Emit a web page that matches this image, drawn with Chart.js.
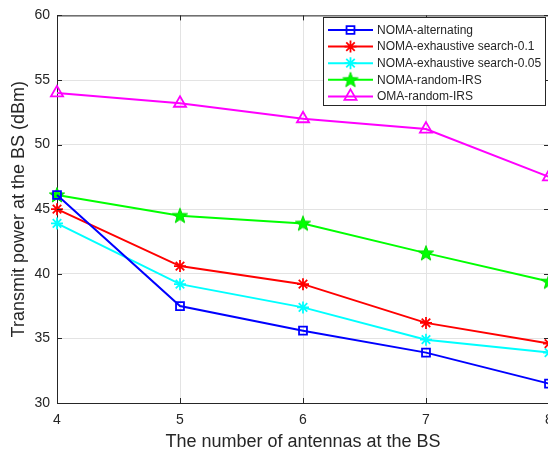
<!DOCTYPE html>
<html>
<head>
<meta charset="utf-8">
<script src="https://cdn.jsdelivr.net/npm/chart.js@4/dist/chart.umd.min.js"></script>
<style>
  html, body { margin: 0; padding: 0; background: #fff; overflow: hidden; }
  #wrap { width: 570px; height: 453px; }
</style>
</head>
<body>
<div id="wrap"><canvas id="c"></canvas></div>
<script>
const antennas = [4, 5, 6, 7, 8]
const yTicks = [30, 35, 40, 45, 50, 55, 60]
const alternating = [46.1, 37.5, 35.6, 33.9, 31.5]
const exhaustive01 = [45.0, 40.6, 39.2, 36.2, 34.6]
const exhaustive005 = [43.9, 39.2, 37.4, 34.9, 33.9]
const noma_random = [46.1, 44.5, 43.9, 41.6, 39.4]
const oma_random = [54.0, 53.2, 52.0, 51.2, 47.5]

const FONT = '"Liberation Sans", Arial, Helvetica, sans-serif'
const TXT = '#262626'

// pentagram marker
const pent = document.createElement('canvas')
pent.width = 18; pent.height = 18
{
  const g = pent.getContext('2d')
  g.beginPath()
  for (let i = 0; i < 10; i++) {
    const r = i % 2 === 0 ? 8 : 3.3
    const a = -Math.PI / 2 + i * Math.PI / 5
    const px = 9 + r * Math.cos(a), py = 9.5 + r * Math.sin(a)
    i === 0 ? g.moveTo(px, py) : g.lineTo(px, py)
  }
  g.closePath()
  g.fillStyle = '#00ff00'
  g.fill()
  g.strokeStyle = '#00dd00'
  g.lineWidth = 1
  g.stroke()
}

const pts = (arr) => antennas.map((x, i) => ({ x: x, y: arr[i] }))

const mk = (label, arr, color, style, radius) => ({
  label: label,
  data: pts(arr),
  showLine: true,
  clip: false,
  borderColor: color,
  backgroundColor: 'rgba(0,0,0,0)',
  borderWidth: 2,
  pointStyle: style,
  pointRadius: radius,
  pointHoverRadius: radius,
  pointBorderColor: color,
  pointBackgroundColor: 'rgba(0,0,0,0)',
  pointBorderWidth: 1.8,
  tension: 0,
})

const datasets = [
  mk('NOMA-alternating', alternating, '#0000ff', 'rect', 5.6),
  mk('NOMA-exhaustive search-0.1', exhaustive01, '#ff0000', 'star', 6),
  mk('NOMA-exhaustive search-0.05', exhaustive005, '#00ffff', 'star', 6),
  mk('NOMA-random-IRS', noma_random, '#00ff00', pent, 8),
  mk('OMA-random-IRS', oma_random, '#ff00ff', 'triangle', 7),
]

// box + inward ticks + legend inside the plot
const boxLegend = {
  id: 'boxLegend',
  afterDraw(chart) {
    const ctx = chart.ctx
    const a = chart.chartArea
    const xs = chart.scales.x, ys = chart.scales.y
    ctx.save()
    ctx.strokeStyle = TXT
    ctx.lineWidth = 1
    ctx.beginPath()
    ctx.moveTo(a.left, a.top + 0.5); ctx.lineTo(a.right, a.top + 0.5)
    ctx.moveTo(a.right - 0.5, a.top); ctx.lineTo(a.right - 0.5, a.bottom)
    antennas.forEach((v) => {
      const px = Math.round(xs.getPixelForValue(v)) + 0.5
      ctx.moveTo(px, a.bottom); ctx.lineTo(px, a.bottom - 5)
      ctx.moveTo(px, a.top); ctx.lineTo(px, a.top + 5)
    })
    yTicks.forEach((v) => {
      const py = Math.round(ys.getPixelForValue(v)) + 0.5
      ctx.moveTo(a.left, py); ctx.lineTo(a.left + 5, py)
      ctx.moveTo(a.right, py); ctx.lineTo(a.right - 5, py)
    })
    ctx.stroke()

    // legend
    const lx = 323, ly = 17, lw = 222, lh = 88
    ctx.fillStyle = '#fff'
    ctx.fillRect(lx, ly, lw, lh)
    ctx.strokeStyle = TXT
    ctx.lineWidth = 1
    ctx.strokeRect(lx + 0.5, ly + 0.5, lw, lh)
    ctx.font = '12px ' + FONT
    ctx.textBaseline = 'middle'
    chart.data.datasets.forEach((ds, i) => {
      const y = 30 + i * 16.6
      ctx.strokeStyle = ds.borderColor
      ctx.lineWidth = 2
      ctx.beginPath()
      ctx.moveTo(328, y); ctx.lineTo(373, y)
      ctx.stroke()
      ctx.fillStyle = 'rgba(0,0,0,0)'
      ctx.strokeStyle = ds.borderColor
      ctx.lineWidth = ds.pointBorderWidth
      Chart.helpers.drawPoint(ctx, {
        pointStyle: ds.pointStyle,
        radius: ds.pointRadius,
        borderWidth: ds.pointBorderWidth,
        rotation: 0,
      }, 350.5, y)
      ctx.fillStyle = TXT
      ctx.fillText(ds.label, 377, y + 0.5)
    })
    ctx.restore()
  }
}

const canvas = document.getElementById('c')
const chart = new Chart(canvas, {
  type: 'scatter',
  data: { datasets: datasets },
  plugins: [boxLegend],
  options: {
    responsive: true,
    maintainAspectRatio: false,
    animation: false,
    layout: { padding: { top: 15, right: 21, left: 0, bottom: 0 } },
    plugins: {
      legend: { display: false },
      tooltip: { enabled: false },
    },
    scales: {
      x: {
        type: 'linear',
        min: 4,
        max: 8,
        afterFit: (s) => { s.height = 50 },
        afterBuildTicks: (s) => { s.ticks = antennas.map((v) => ({ value: v })) },
        ticks: { color: TXT, font: { family: FONT, size: 14 }, padding: 9 },
        grid: { color: '#e3e3e3', drawTicks: false, lineWidth: 1 },
        border: { color: TXT, width: 1 },
        title: {
          display: true,
          text: 'The number of antennas at the BS',
          color: TXT,
          font: { family: FONT, size: 18 },
          padding: { top: 0, bottom: 0 },
        },
      },
      y: {
        min: 30,
        max: 60,
        afterFit: (s) => { s.width = 57 },
        afterBuildTicks: (s) => { s.ticks = yTicks.map((v) => ({ value: v })) },
        ticks: { color: TXT, font: { family: FONT, size: 14 }, padding: 7 },
        grid: { color: '#e3e3e3', drawTicks: false, lineWidth: 1 },
        border: { color: TXT, width: 1 },
        title: {
          display: true,
          text: 'Transmit power at the BS (dBm)',
          color: TXT,
          font: { family: FONT, size: 18 },
          padding: { top: 8, bottom: 0 },
        },
      },
    },
  },
})
</script>
</body>
</html>
